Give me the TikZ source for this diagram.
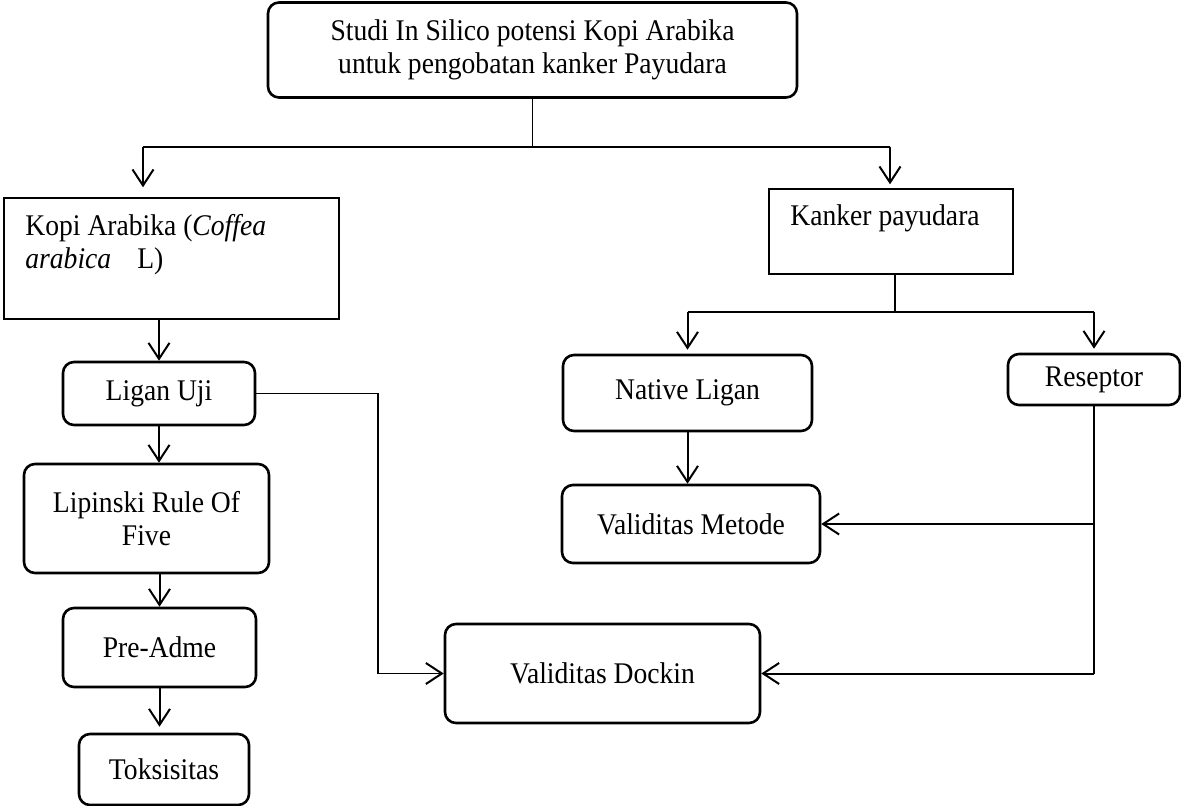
\documentclass[tikz,border=0pt]{standalone}
\usepackage{fontspec}
\setmainfont[FakeStretch=0.92]{Liberation Serif}
\usetikzlibrary{arrows.meta}
\tikzset{
  rbox/.style={draw, line width=1.3pt, rounded corners=5.5pt, align=center, inner sep=0pt},
  sbox/.style={draw, line width=0.7pt, inner sep=0pt},
  tipis/.style={line width=0.6pt},
  ujung/.style={-{Straight Barb[length=8pt,width=10.5pt,line width=1pt]}},
  panah/.style={line width=1pt, ujung},
}
\begin{document}
\begin{tikzpicture}[x=0.5pt,y=-0.5pt,font=\fontsize{15}{16.5}\selectfont]
\useasboundingbox (0,0) rectangle (1181,806);
% kotak
\node[rbox, minimum width=264.5pt, minimum height=47.5pt] (judul) at (532.5,50) {Studi In Silico potensi Kopi Arabika\\untuk pengobatan kanker Payudara};
\node[sbox, minimum width=167.5pt, minimum height=60.5pt] (kopi) at (171.5,258.5) {};
\node[anchor=north west, align=left, inner sep=0pt] (kopitxt) at (25,214) {Kopi Arabika (\textit{Coffea}\\\textit{arabica}\hspace{13pt}L)};
\node[rbox, minimum width=96pt, minimum height=31.5pt] (ligan) at (159,393.5) {Ligan Uji};
\node[rbox, minimum width=122.5pt, minimum height=54.5pt] (lipinski) at (146.5,518.5) {Lipinski Rule Of\\Five};
\node[rbox, minimum width=96.5pt, minimum height=39.5pt] (preadme) at (159.5,647.5) {Pre-Adme};
\node[rbox, minimum width=85pt, minimum height=35.5pt] (toks) at (164,769.5) {Toksisitas};
\node[sbox, minimum width=122pt, minimum height=42.5pt] (kanker) at (891,231.5) {};
\node[anchor=north west, inner sep=0pt] (kankertxt) at (790,204) {Kanker payudara};
\node[rbox, minimum width=124.5pt, minimum height=38pt] (native) at (687.5,393) {Native Ligan};
\node[rbox, minimum width=86pt, minimum height=25.5pt] (reseptor) at (1094,379.5) {Reseptor};
\node[rbox, minimum width=129pt, minimum height=39pt] (metode) at (691,524) {Validitas Metode};
\node[rbox, minimum width=157.5pt, minimum height=49.5pt] (dockin) at (602.5,673.5) {Validitas Dockin};
% cabang atas
\coordinate (cabang) at (532.5,147);
\coordinate (kiri) at (143,147);
\coordinate (kanan) at (890,147);
\draw[tipis] (judul.south) -- (cabang);
\draw[tipis] (kiri) -- (kanan);
\draw[panah, shorten >=5pt] (kiri) -- (kiri |- kopi.north);
\draw[panah, shorten >=2pt] (kanan) -- (kanan |- kanker.north);
% kiri
\draw[panah] (kopi.south -| ligan.north) -- (ligan.north);
\draw[panah] (ligan.south) -- (ligan.south |- lipinski.north);
\draw[panah] (preadme.north |- lipinski.south) -- (preadme.north);
\draw[panah, shorten >=3pt] (preadme.south) -- (preadme.south |- toks.north);
\coordinate (belok) at (378,0);
\draw[tipis, ujung] (ligan.east) -- (ligan.east -| belok) -- (belok |- dockin.west) -- (dockin.west);
% kanan
\coordinate (cabang2) at (895,312);
\draw[tipis] (kanker.south -| cabang2) -- (cabang2);
\draw[tipis] (cabang2 -| native) -- (cabang2 -| reseptor);
\draw[panah, shorten >=2pt] (cabang2 -| native) -- (native.north);
\draw[panah, shorten >=2pt] (cabang2 -| reseptor) -- (reseptor.north);
\draw[panah] (native.south) -- (native.south |- metode.north);
\draw[line width=0.8pt] (reseptor.south) -- (reseptor.south |- dockin.east);
\draw[panah] (reseptor.south |- metode.east) -- (metode.east);
\draw[panah] (reseptor.south |- dockin.east) -- (dockin.east);
\end{tikzpicture}
\end{document}
